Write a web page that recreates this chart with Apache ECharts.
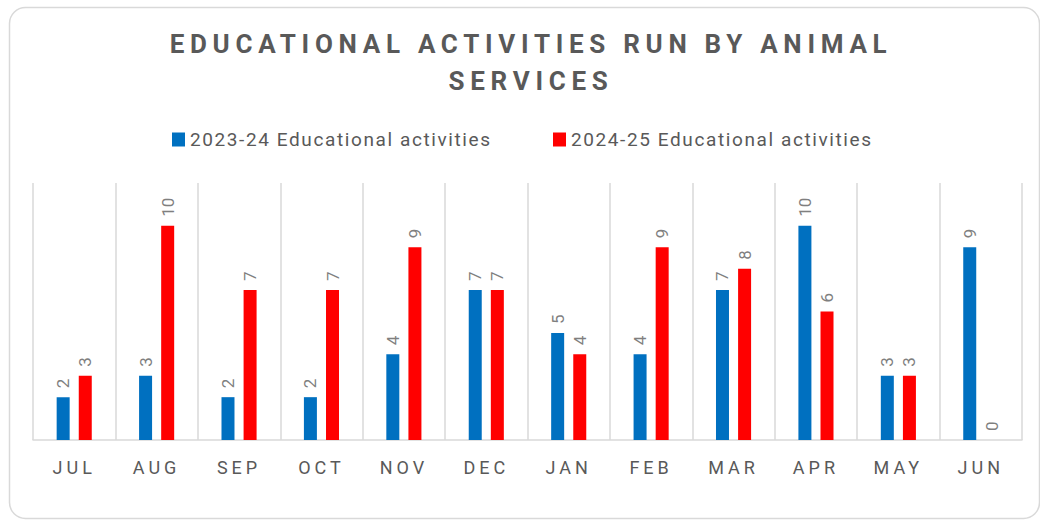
<!DOCTYPE html>
<html><head><meta charset="utf-8">
<script src="https://cdn.jsdelivr.net/npm/echarts@6/dist/echarts.min.js"></script>
<style>
html,body{margin:0;padding:0;background:#fff}
#c{width:1040px;height:521px}
#c text[style*="26px"]{letter-spacing:5.7px}
#c text[style*="18px"]{letter-spacing:4px}
#c text[style*="19px"]{letter-spacing:1.6px}
</style>
</head><body><div id="c"></div>
<script>
const titleText = 'EDUCATIONAL ACTIVITIES RUN BY ANIMAL\nSERVICES';
const months = ['JUL','AUG','SEP','OCT','NOV','DEC','JAN','FEB','MAR','APR','MAY','JUN'];
const seriesNames = ['2023-24 Educational activities','2024-25 Educational activities'];
const values2324 = [2,3,2,2,4,7,5,4,7,10,3,9];
const values2425 = [3,10,7,7,9,7,4,9,8,6,3,0];

const chart = echarts.init(document.getElementById('c'), null, { renderer: 'svg' });
const labelCfg = {
  show: true, position: 'top', rotate: 90, align: 'left', verticalAlign: 'middle',
  distance: 9, color: '#7f7f7f', fontSize: 17, fontFamily: 'Roboto'
};
const legendText = { fontSize: 19, color: '#595959', fontFamily: 'Roboto' };
chart.setOption({
  animation: false,
  graphic: [{
    type: 'rect', left: 7, top: 5, silent: true,
    shape: { width: 1030, height: 511, r: 16 },
    style: { fill: 'none', stroke: '#d9d9d9', lineWidth: 1.5 }
  }],
  title: {
    text: titleText, left: 531, textAlign: 'center', top: 25, padding: 0,
    textStyle: { fontSize: 26, fontWeight: 'bold', color: '#595959', lineHeight: 37, fontFamily: 'Roboto' }
  },
  legend: [
    { top: 130, left: 172, padding: 0, itemWidth: 13, itemHeight: 14, itemGap: 6, icon: 'rect',
      textStyle: legendText, data: [seriesNames[0]] },
    { top: 130, left: 553, padding: 0, itemWidth: 13, itemHeight: 14, itemGap: 6, icon: 'rect',
      textStyle: legendText, data: [seriesNames[1]] }
  ],
  grid: { left: 33, right: 18, top: 183, bottom: 81, containLabel: false },
  xAxis: {
    type: 'category', data: months,
    axisLine: { lineStyle: { color: '#d9d9d9', width: 1.5 } },
    axisTick: { show: false },
    splitLine: { show: true, lineStyle: { color: '#d9d9d9', width: 1.5 } },
    axisLabel: { color: '#595959', fontSize: 18, margin: 18, fontFamily: 'Roboto' }
  },
  yAxis: { type: 'value', min: 0, max: 12, show: false, splitLine: { show: false } },
  series: [
    { name: seriesNames[0], type: 'bar', data: values2324, barWidth: 13, barGap: '70%',
      itemStyle: { color: '#0070c0' }, label: labelCfg },
    { name: seriesNames[1], type: 'bar', data: values2425, barWidth: 13, barGap: '70%',
      itemStyle: { color: '#ff0000' }, label: labelCfg }
  ]
});
</script></body></html>
